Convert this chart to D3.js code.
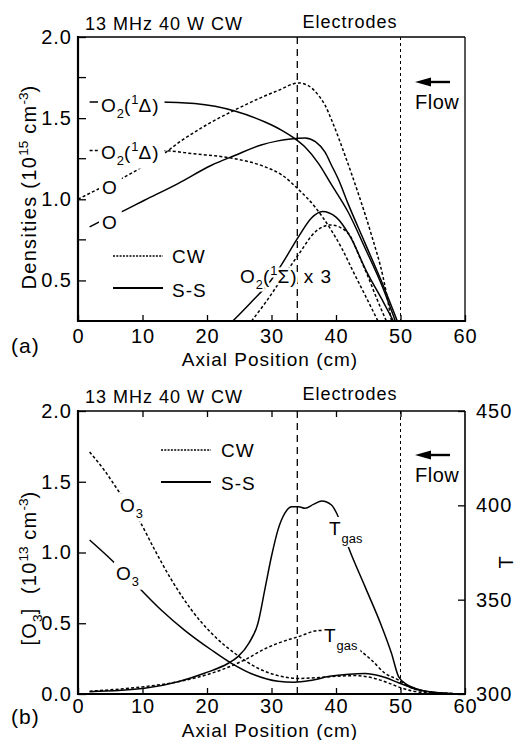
<!DOCTYPE html>
<html><head><meta charset="utf-8">
<script src="https://cdn.jsdelivr.net/npm/d3@7"></script>
<style>
body{margin:0;background:#fff}
text{font-family:"Liberation Sans",Arial,Helvetica,sans-serif;fill:#000;letter-spacing:1px}
</style>
</head><body>
<svg id="c" width="516" height="740"></svg>
<script>
// ---------- DATA ----------
const xTickVals = [0,10,20,30,40,50,60];
const yTicksA = [0.5,1.0,1.5,2.0];
const yMinorA = [0.75,1.25,1.75];
const yTicksB = [0,0.5,1.0,1.5,2.0];
const tTicks = [300,350,400,450];
const electrodes = [34,50];

// panel (a): densities (10^15 cm^-3)
const oCwX   = [0,3,6.7,10,12.9,16,20,24.3,28,31,34.2,35.7,37.3,38.3,39.3,41.4,43.5,45.5,47.3,48.6];
const oCwY   = [1.0,1.06,1.127,1.2,1.27,1.36,1.46,1.55,1.62,1.67,1.717,1.70,1.64,1.58,1.49,1.27,1.03,0.78,0.52,0.25];
const oSsX   = [1.8,4,6.7,10.3,15.5,20.7,24.3,28.4,31,33,35.2,36.8,38.3,39.3,40.4,41.9,44.5,47.1,49.5];
const oSsY   = [0.83,0.875,0.922,0.994,1.097,1.21,1.27,1.335,1.36,1.372,1.378,1.355,1.29,1.21,1.12,0.97,0.73,0.49,0.25];
const dCwX   = [1.8,5,9,12.9,18,24.3,29,31.6,34.2,36.8,39.1,41,42.6,44.5,46.5];
const dCwY   = [1.30,1.30,1.30,1.30,1.28,1.25,1.20,1.15,1.06,0.95,0.82,0.69,0.56,0.41,0.25];
const dSsX   = [1.8,5,9,12.7,18.1,24.3,29,31.6,33.4,35.2,37.3,39.3,41.9,44.5,47.1,49.2];
const dSsY   = [1.60,1.60,1.60,1.60,1.59,1.544,1.476,1.425,1.38,1.322,1.22,1.09,0.92,0.70,0.47,0.25];
const sSsX   = [24,26.7,29.9,31.6,34.2,36.2,37.9,40,42.2,44.8,47.3,48.9];
const sSsY   = [0.25,0.36,0.50,0.60,0.77,0.885,0.925,0.89,0.77,0.55,0.37,0.25];
const sCwX   = [26.9,29,31.6,34.2,36.8,39.2,41.9,43.7,45,46.3,47.8];
const sCwY   = [0.25,0.36,0.51,0.66,0.80,0.842,0.79,0.64,0.52,0.39,0.25];

// panel (b): [O3] (10^13 cm^-3) and Tgas (K)
const o3CwX = [1.8,4.1,6.2,9.6,11.9,14.5,17.6,20.7,24.3,27.9,31,34.2,37,40,43,46,48,50,52,55,58,60];
const o3CwY = [1.71,1.58,1.44,1.218,1.018,0.806,0.594,0.429,0.288,0.182,0.13,0.11,0.115,0.125,0.13,0.11,0.08,0.045,0.02,0.008,0.003,0.0];
const o3SsX = [1.8,5.2,9.3,12.9,16.5,20.7,23.8,27.4,31,33.5,36,39,42,44.5,47,49.7,52.3,55,57.4,60];
const o3SsY = [1.088,0.947,0.758,0.594,0.452,0.311,0.217,0.134,0.09,0.083,0.095,0.125,0.14,0.145,0.125,0.08,0.035,0.012,0.003,0];
const tSsX  = [1.8,10.3,15.5,19.6,23.3,24.8,26.5,27.9,29,30,31,32.1,33.1,34.2,35.2,36.5,37.8,39.3,40.1,41.9,44.5,47.1,48.6,49.7,51,52.3,54.8,57,60];
const tSsY  = [301.2,303,306.5,311,316.3,319.8,327,337.5,356,373,387,396,399.3,399.3,398.4,400.5,402.3,400.2,395.8,378,356.9,335.7,321.6,309.2,305,303,301,300.4,300];
const tCwX  = [1.8,10.3,15.5,20.7,25.8,29,31,34.2,37.3,39,41,43,45.5,47.6,49.7,51,52.3,55,58,60];
const tCwY  = [301.5,303.9,306.5,311,318,324,326.9,330.4,333.6,333.5,330,325,318,311,307.4,304.5,302.5,300.8,300.2,300];

// ---------- DRAW ----------
const svg = d3.select("#c");
const FS = 19;
const TFS = 20;
const x = d3.scaleLinear().domain([0,60]).range([78,465]);
const yA = d3.scaleLinear().domain([0.25,2]).range([321,37]);
const yB = d3.scaleLinear().domain([0,2]).range([694,411]);
const yT = d3.scaleLinear().domain([300,450]).range([694,411]);
const f1 = d3.format(".1f");

function rich(g, px, py, parts, size, anchor) {
  const t = g.append("text").attr("x",px).attr("y",py).style("font-size",size+"px");
  if (anchor) t.attr("text-anchor",anchor);
  let shift = 0;
  parts.forEach(p => {
    const s = p.s || 0;
    const off = s === 1 ? -0.42*size : s === -1 ? (p.d || 0.3)*size : 0;
    const ts = t.append("tspan").text(p.t).attr("dy", off - shift);
    if (s) ts.style("font-size",(size*0.68)+"px").style("letter-spacing","0px");
    shift = off;
  });
  return t;
}
function knockLabel(g, px, py, parts, size, pad) {
  const lg = g.append("g");
  const r = lg.append("rect").attr("fill","#fff");
  const t = rich(lg, px, py, parts, size);
  const b = t.node().getBBox();
  const p = pad || [2,4,1,1];
  r.attr("x",b.x-p[0]).attr("width",b.width+p[0]+p[1]).attr("y",b.y-p[2]).attr("height",b.height+p[2]+p[3]);
  return lg;
}
function line(g, xs, ys, yScale, dash, w) {
  const pts = xs.map((v,i)=>[v, ys[i]]);
  const gen = d3.line().x(d=>x(d[0])).y(d=>yScale(d[1])).curve(d3.curveMonotoneX);
  const p = g.append("path").attr("d",gen(pts)).attr("fill","none").attr("stroke","#000")
    .attr("stroke-width", w || 1.5);
  if (dash) p.attr("stroke-dasharray",dash);
  return p;
}
const CWD = "3,2.2";

function electrodeLines(g, y0, y1) {
  g.append("line").attr("x1",x(electrodes[0])).attr("x2",x(electrodes[0])).attr("y1",y1).attr("y2",y0)
    .attr("stroke","#000").attr("stroke-width",1.3).attr("stroke-dasharray","7,5");
  g.append("line").attr("x1",x(electrodes[1])).attr("x2",x(electrodes[1])).attr("y1",y1).attr("y2",y0)
    .attr("stroke","#000").attr("stroke-width",1).attr("stroke-dasharray","3,3");
}

function frame(g, y0, y1, rightAxis) {
  g.append("line").attr("x1",78).attr("x2",465).attr("y1",y1).attr("y2",y1).attr("stroke","#000").attr("stroke-width",1.3);
  g.append("line").attr("x1",465).attr("x2",465).attr("y1",y1).attr("y2",y0).attr("stroke","#000").attr("stroke-width",rightAxis?1.6:1.3);
  g.append("line").attr("x1",78).attr("x2",78).attr("y1",y1-1).attr("y2",y0+1).attr("stroke","#000").attr("stroke-width",2.2);
  g.append("line").attr("x1",77).attr("x2",466).attr("y1",y0).attr("y2",y0).attr("stroke","#000").attr("stroke-width",2.2);
}

function styleAxis(a) {
  a.select(".domain").remove();
  a.selectAll("line").attr("stroke-width",1.3);
  a.selectAll("text").style("font-size",TFS+"px");
  a.attr("font-family",null).attr("font-size",null);
}

function xAxis(g, y0, padding, topY) {
  const a = g.append("g").attr("transform",`translate(0,${y0})`)
    .call(d3.axisBottom(x).tickValues(xTickVals).tickSize(-6).tickPadding(padding).tickFormat(d3.format("d")));
  styleAxis(a);
  if (topY !== undefined) {
    const at = g.append("g").attr("transform",`translate(0,${topY})`)
      .call(d3.axisTop(x).tickValues([10,20,30,40,50]).tickSize(-6).tickFormat(""));
    styleAxis(at);
  }
}

function flow(g, ay, ty) {
  g.append("path").attr("d",`M415,${ay} L431,${ay-4.5} L431,${ay+4.5} Z`).attr("fill","#000");
  g.append("line").attr("x1",428).attr("x2",450).attr("y1",ay).attr("y2",ay).attr("stroke","#000").attr("stroke-width",2.4);
  g.append("text").attr("x",415).attr("y",ty).style("font-size","20px").style("letter-spacing","0.5px").text("Flow");
}

// ===== Panel (a) =====
const ga = svg.append("g");
electrodeLines(ga, 321, 37);
const la = ga.append("g");
line(la, oCwX, oCwY, yA, CWD);
line(la, dCwX, dCwY, yA, CWD);
line(la, sCwX, sCwY, yA, CWD);
line(la, oSsX, oSsY, yA);
line(la, dSsX, dSsY, yA);
line(la, sSsX, sSsY, yA);

const labA = ga.append("g");
knockLabel(labA, 101, 112, [{t:"O"},{t:"2",s:-1},{t:"("},{t:"1",s:1},{t:"Δ)"}], FS, [3,5,1,1]);
knockLabel(labA, 101, 159, [{t:"O"},{t:"2",s:-1},{t:"("},{t:"1",s:1},{t:"Δ)"}], FS, [3,5,1,1]);
knockLabel(labA, 102, 194, [{t:"O"}], FS, [3,4,1,1]);
knockLabel(labA, 102, 229, [{t:"O"}], FS, [3,4,1,1]);
rich(labA, 240, 283, [{t:"O"},{t:"2",s:-1},{t:"("},{t:"1",s:1},{t:"Σ) x 3"}], FS)
  .attr("stroke","#fff").attr("stroke-width",5).attr("paint-order","stroke").attr("stroke-linejoin","round");

frame(ga, 321, 37, false);
const aya = ga.append("g").attr("transform","translate(78,0)")
  .call(d3.axisLeft(yA).tickValues(yTicksA).tickSize(-8).tickPadding(6).tickFormat(f1));
styleAxis(aya);
ga.append("g").selectAll("line").data(yMinorA).join("line")
  .attr("x1",78).attr("x2",86).attr("y1",d=>yA(d)).attr("y2",d=>yA(d)).attr("stroke","#000").attr("stroke-width",1.3);
xAxis(ga, 321, 8);

ga.append("line").attr("x1",113).attr("x2",163).attr("y1",256).attr("y2",256).attr("stroke","#000").attr("stroke-width",1.4).attr("stroke-dasharray","2,1.3");
ga.append("text").attr("x",172).attr("y",263).style("font-size",FS+"px").text("CW");
ga.append("line").attr("x1",113).attr("x2",163).attr("y1",288).attr("y2",288).attr("stroke","#000").attr("stroke-width",1.8);
ga.append("text").attr("x",172).attr("y",297).style("font-size",FS+"px").text("S-S");

ga.append("text").attr("x",85).attr("y",30).style("font-size","18px").text("13 MHz 40 W CW");
ga.append("text").attr("x",350).attr("y",28).attr("text-anchor","middle").style("font-size","18px").text("Electrodes");
flow(ga, 82, 109);
rich(ga.append("g").attr("transform","translate(36,187) rotate(-90)"), 0, 0,
  [{t:"Densities (10"},{t:"15",s:1},{t:" cm"},{t:"-3",s:1},{t:")"}], 20, "middle").style("letter-spacing","1.3px");
ga.append("text").attr("x",270).attr("y",366).attr("text-anchor","middle").style("font-size",FS+"px").text("Axial Position (cm)");
ga.append("text").attr("x",11).attr("y",353).style("font-size","21px").text("(a)");

// ===== Panel (b) =====
const gb = svg.append("g");
electrodeLines(gb, 694, 411);
const lb = gb.append("g");
line(lb, o3CwX, o3CwY, yB, CWD);
line(lb, tCwX, tCwY, yT, CWD);
line(lb, o3SsX, o3SsY, yB);
line(lb, tSsX, tSsY, yT);

const labB = gb.append("g");
knockLabel(labB, 120, 512, [{t:"O"},{t:"3",s:-1}], FS, [2,3,1,1]);
knockLabel(labB, 116, 580, [{t:"O"},{t:"3",s:-1}], FS, [2,3,1,1]);
knockLabel(labB, 329, 535, [{t:"T"},{t:"gas",s:-1,d:0.42}], FS, [2,3,1,1]);
knockLabel(labB, 324, 642, [{t:"T"},{t:"gas",s:-1,d:0.42}], FS, [2,3,1,1]);

frame(gb, 694, 411, true);
const ayb = gb.append("g").attr("transform","translate(78,0)")
  .call(d3.axisLeft(yB).tickValues(yTicksB).tickSize(-8).tickPadding(6).tickFormat(f1));
styleAxis(ayb);
const ayr = gb.append("g").attr("transform","translate(465,0)")
  .call(d3.axisRight(yT).tickValues(tTicks).tickSize(-7).tickPadding(11).tickFormat(d3.format("d")));
styleAxis(ayr);
xAxis(gb, 694, 5, 411);

gb.append("line").attr("x1",161).attr("x2",211).attr("y1",450).attr("y2",450).attr("stroke","#000").attr("stroke-width",1.4).attr("stroke-dasharray","2,1.3");
gb.append("text").attr("x",221).attr("y",457).style("font-size",FS+"px").text("CW");
gb.append("line").attr("x1",161).attr("x2",211).attr("y1",482).attr("y2",482).attr("stroke","#000").attr("stroke-width",1.8);
gb.append("text").attr("x",221).attr("y",490).style("font-size",FS+"px").text("S-S");

gb.append("text").attr("x",85).attr("y",403).style("font-size","18px").text("13 MHz 40 W CW");
gb.append("text").attr("x",350).attr("y",400).attr("text-anchor","middle").style("font-size","18px").text("Electrodes");
flow(gb, 455, 482);
rich(gb.append("g").attr("transform","translate(36,568) rotate(-90)"), 0, 0,
  [{t:"[O"},{t:"3",s:-1},{t:"]  (10"},{t:"13",s:1},{t:" cm"},{t:"-3",s:1},{t:")"}], 20, "middle")
  .style("white-space","pre").style("letter-spacing","1.2px");
gb.append("text").attr("x",0).attr("y",0).attr("transform","translate(513,562) rotate(-90)").attr("text-anchor","middle").style("font-size",TFS+"px").text("T");
gb.append("text").attr("x",270).attr("y",737).attr("text-anchor","middle").style("font-size",FS+"px").text("Axial Position (cm)");
gb.append("text").attr("x",11).attr("y",724).style("font-size","21px").text("(b)");
</script>
</body></html>
